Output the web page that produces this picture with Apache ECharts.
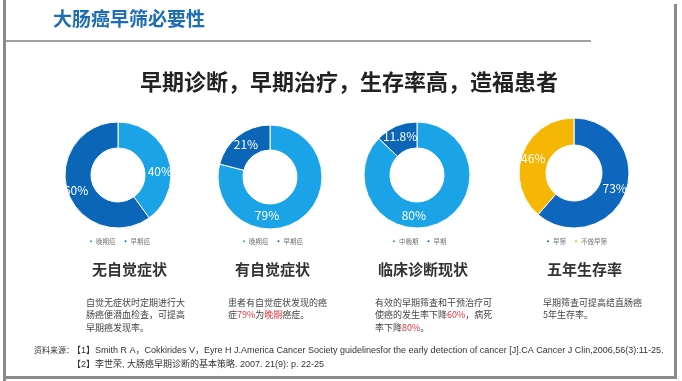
<!DOCTYPE html>
<html><head><meta charset="utf-8">
<script src="https://cdn.jsdelivr.net/npm/echarts@6/dist/echarts.min.js"></script>
<style>html,body{margin:0;padding:0;background:#fff}#c{width:682px;height:381px}</style>
</head><body><div id="c"></div>
<script>
const pieNames = [['晚期癌','早期癌'],['晚期癌','早期癌'],['中晚期','早期'],['早筛','不做早筛']];
const pieValues = [[40,60],[79,21],[80,11.8],[73,46]];
const pieColors = [['#1ba3e8','#0b66b8'],['#1ba3e8','#0b66b8'],['#1ba3e8','#0b66b8'],['#0f67bd','#f6b604']];
const headings = ['无自觉症状','有自觉症状','临床诊断现状','五年生存率'];
const descs = [
  '自觉无症状时定期进行大\n肠癌便潜血检查，可提高\n早期癌发现率。',
  '患者有自觉症状发现的癌\n症{r|79%}为{r|晚期}癌症。',
  '有效的早期筛查和干预治疗可\n使癌的发生率下降{r|60%}，病死\n率下降{r|80%}。',
  '早期筛查可提高结直肠癌\n5年生存率。'
];
const mainTitle = '大肠癌早筛必要性';
const subTitle = '早期诊断，早期治疗，生存率高，造福患者';
const sourceLabel = '资料来源：';
const refs = [
  '【1】Smith R A，Cokkirides V，Eyre H J.America Cancer Society guidelinesfor the early detection of cancer [J].CA Cancer J Clin,2006,56(3):11-25.',
  '【2】李世荣, 大肠癌早期诊断的基本策略. 2007. 21(9): p. 22-25'
];

// layout
const centers = [[118,175],[270,177],[417,175],[574,173]];
const radii = [[27,53],[27,52],[27,53],[28,55]];
const labelShift = [[[1,10],[-1,2]],[[-29,5],[2,1]],[[-20,1],[0,1]],[[-1,0],[1,1]]];
const legendLeft = [88,241,391,545];
const headX = [92,235,378,547];
const descX = [86,228,375,543];
const FONT = '"Noto Sans CJK SC", "Noto Sans", sans-serif';

const chart = echarts.init(document.getElementById('c'));
const series = pieValues.map((vals,i)=>({
  type:'pie', center:centers[i], radius:radii[i], startAngle:90, clockwise:true,
  avoidLabelOverlap:false,
  itemStyle:{borderColor:'#fff', borderWidth:1},
  label:{show:true, position:'inside', formatter:'{c}%', color:'#fff', fontSize:12, fontFamily:FONT},
  labelLine:{show:false},
  labelLayout:function(p){ const s = labelShift[i][p.dataIndex]; return {dx:s[0], dy:s[1]}; },
  emphasis:{disabled:true},
  data: vals.map((v,j)=>({name:pieNames[i][j], value:v, itemStyle:{color:pieColors[i][j]}}))
}));
const legends = pieNames.map((names,i)=>({
  left:legendLeft[i], top:238, padding:0, orient:'horizontal', icon:'circle',
  itemWidth:4, itemHeight:4, itemGap:7, selectedMode:false,
  textStyle:{fontSize:6.5, color:'#777', fontFamily:FONT, padding:[0,0,0,-2]},
  data:names
}));

const graphics = [
  {type:'rect', shape:{x:3,y:0,width:3,height:381}, style:{fill:'#8a8a8a'}},
  {type:'rect', shape:{x:6,y:40,width:585,height:2}, style:{fill:'#a0a0a0'}},
  {type:'rect', shape:{x:674,y:4,width:3,height:375}, style:{fill:'#8a8a8a'}},
  {type:'rect', shape:{x:3,y:376,width:674,height:3}, style:{fill:'#8a8a8a'}},
  {type:'text', left:53, top:9, style:{text:mainTitle, font:'bold 19px '+FONT, fill:'#1d6db4'}},
  {type:'text', left:140, top:71, style:{text:subTitle, font:'bold 22px '+FONT, fill:'#222'}},
  {type:'text', left:34, top:346, style:{text:sourceLabel, font:'8px '+FONT, fill:'#333'}},
  {type:'text', left:72, top:346, style:{text:refs[0], font:'9px "Liberation Sans", '+FONT, fill:'#333'}},
  {type:'text', left:72, top:360, style:{text:refs[1], font:'9px "Liberation Sans", '+FONT, fill:'#333'}}
];
headings.forEach((h,i)=>{
  graphics.push({type:'text', left:headX[i], top:262, style:{text:h, font:'bold 15px '+FONT, fill:'#333'}});
  graphics.push({type:'text', left:descX[i], top:296, style:{text:descs[i], font:'9px '+FONT, fill:'#444', lineHeight:12.5,
    rich:{r:{fill:'#e0353a', font:'9px '+FONT, lineHeight:12.5}}}});
});

chart.setOption({
  animation:false,
  backgroundColor:'#fff',
  legend:legends,
  series:series,
  graphic:graphics
});
</script></body></html>
